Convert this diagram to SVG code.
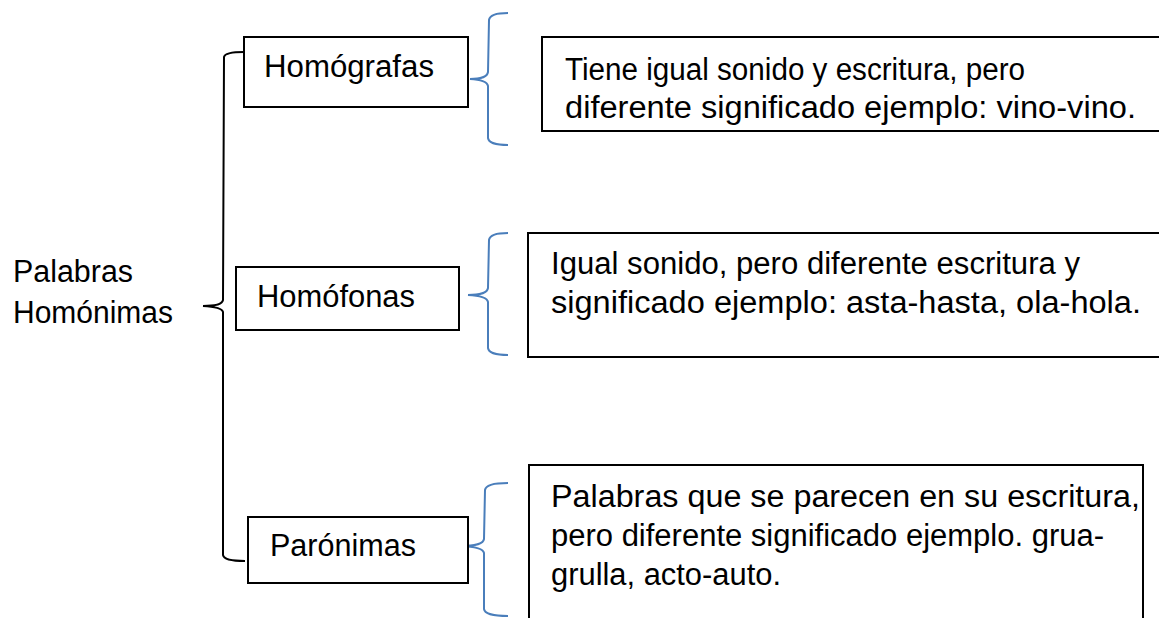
<svg xmlns="http://www.w3.org/2000/svg" width="1159" height="618" viewBox="0 0 1159 618">
<style>
.box{fill:#fff;stroke:#000;stroke-width:2}
.t{font-family:"Liberation Sans",Arial,sans-serif;font-size:31px;fill:#000}
.br{fill:none;stroke:#000;stroke-width:2}
.bl{fill:none;stroke:#4a7ebb;stroke-width:2}
</style>
<rect width="1159" height="618" fill="#fff"/>
<g id="connectors">
<path class="br" d="M244 52 Q225 52 224 57 L223 300 Q222 306 203 306 Q222 307 223 312 L223 555 Q224 561 245 561"/>
<path class="bl" d="M508 13 Q490 13 489 20 L488 72 Q487 79 470 79 Q487 80 488 86 L488 138 Q489 145 508 145"/>
<path class="bl" d="M508 233 Q490 233 489 240 L488 288 Q487 295 468 295 Q487 296 488 302 L488 348 Q489 355 508 355"/>
<path class="bl" d="M508 483 Q486 483 485 490 L484 539 Q483 546 461 546 Q483 547 484 553 L484 609 Q485 616 508 616"/>
</g>
<g id="root">
<text class="t" x="13" y="282" textLength="120" lengthAdjust="spacingAndGlyphs">Palabras</text>
<text class="t" x="13" y="323" textLength="160" lengthAdjust="spacingAndGlyphs">Homónimas</text>
</g>
<g id="homografas">
<rect class="box" x="244" y="37" width="224" height="70"/>
<text class="t" x="264" y="77" textLength="170" lengthAdjust="spacingAndGlyphs">Homógrafas</text>
</g>
<g id="homofonas">
<rect class="box" x="236" y="267" width="223" height="63"/>
<text class="t" x="257" y="307" textLength="158" lengthAdjust="spacingAndGlyphs">Homófonas</text>
</g>
<g id="paronimas">
<rect class="box" x="248" y="517" width="220" height="66"/>
<text class="t" x="270" y="556" textLength="146" lengthAdjust="spacingAndGlyphs">Parónimas</text>
</g>
<g id="def-homografas">
<rect class="box" x="542" y="37" width="630" height="94"/>
<text class="t" x="565" y="80" textLength="460" lengthAdjust="spacingAndGlyphs">Tiene igual sonido y escritura, pero</text>
<text class="t" x="565" y="118" textLength="571" lengthAdjust="spacingAndGlyphs">diferente significado ejemplo: vino-vino.</text>
</g>
<g id="def-homofonas">
<rect class="box" x="528" y="233" width="640" height="124"/>
<text class="t" x="551" y="274" textLength="529" lengthAdjust="spacingAndGlyphs">Igual sonido, pero diferente escritura y</text>
<text class="t" x="551" y="313" textLength="590" lengthAdjust="spacingAndGlyphs">significado ejemplo: asta-hasta, ola-hola.</text>
</g>
<g id="def-paronimas">
<rect class="box" x="529" y="465" width="614" height="170"/>
<text class="t" x="551" y="507" textLength="589" lengthAdjust="spacingAndGlyphs">Palabras que se parecen en su escritura,</text>
<text class="t" x="551" y="546" textLength="553" lengthAdjust="spacingAndGlyphs">pero diferente significado ejemplo. grua-</text>
<text class="t" x="551" y="585" textLength="230" lengthAdjust="spacingAndGlyphs">grulla, acto-auto.</text>
</g>
</svg>
